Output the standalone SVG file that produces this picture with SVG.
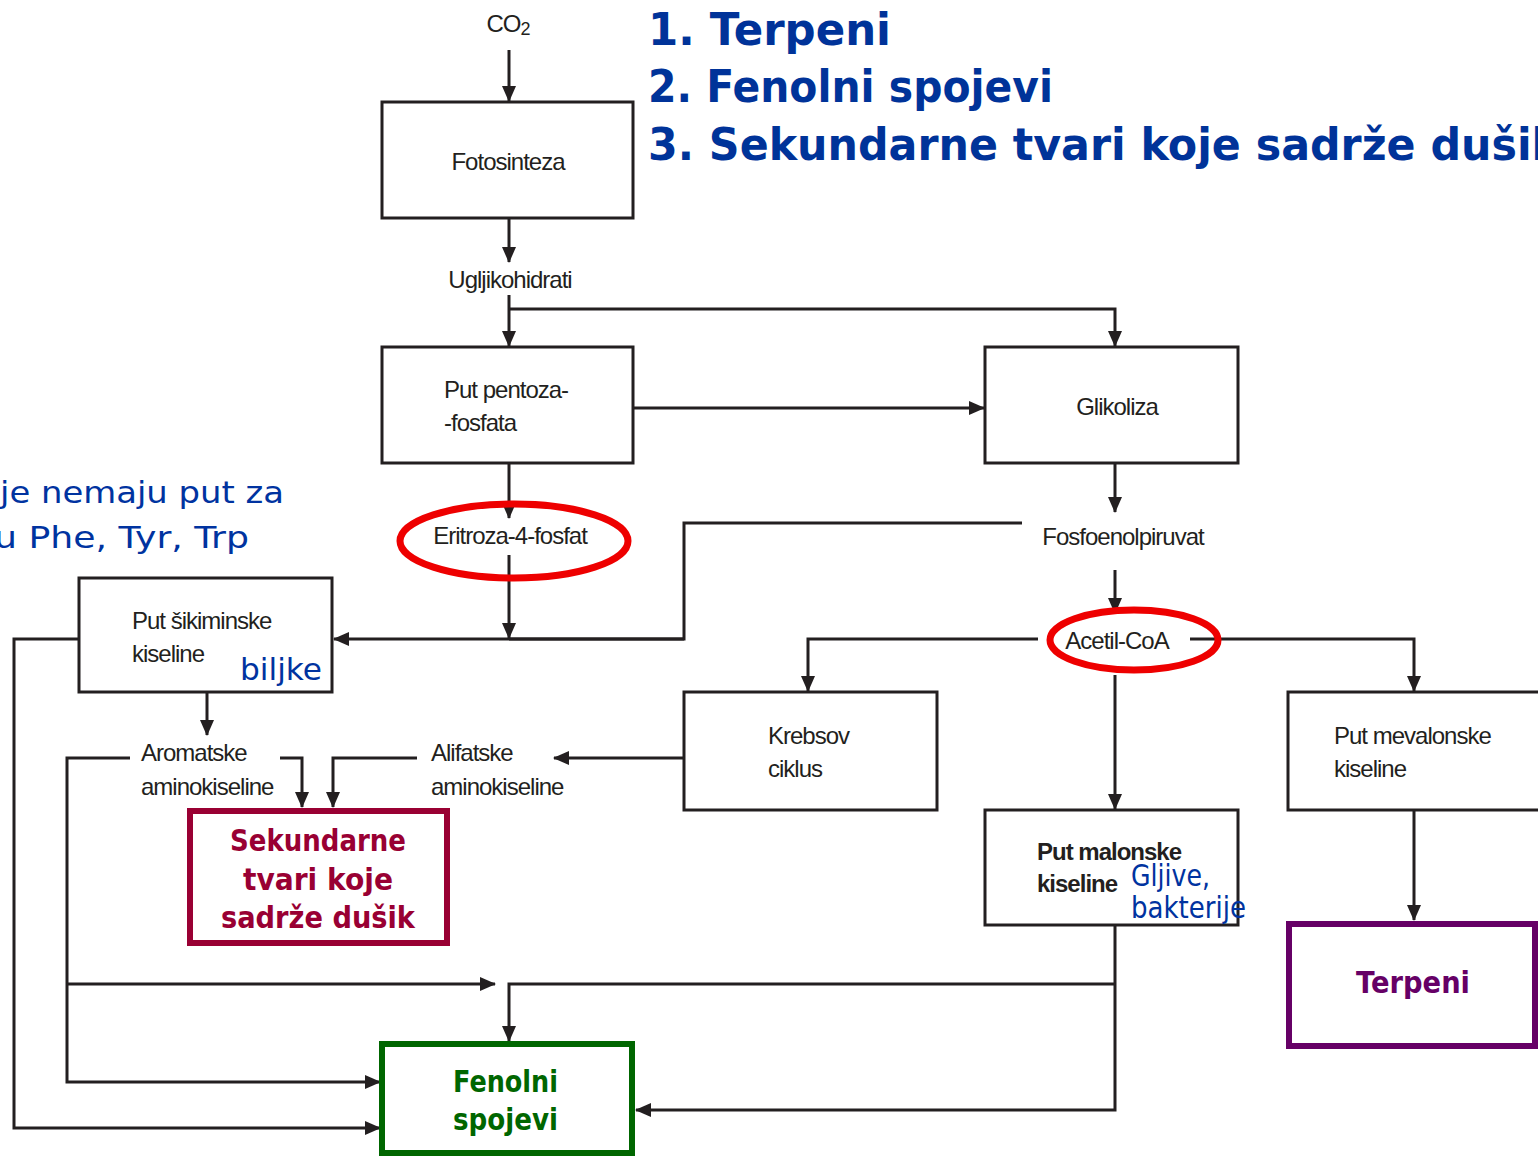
<svg xmlns="http://www.w3.org/2000/svg" width="1538" height="1156" viewBox="0 0 1538 1156">
<defs>
<style>
.box{fill:#fff;stroke:#231f20;stroke-width:3}
.lbl{font-family:"Liberation Sans",Arial,sans-serif;font-size:24px;letter-spacing:-1px;fill:#231f20}
.bold{font-weight:bold}
.c{text-anchor:middle}
.comic{font-family:"Comic Sans MS","DejaVu Sans",sans-serif}
.title{font-weight:bold;font-size:44px;fill:#003399}
.note{font-size:30px;fill:#0033a0}
.big{font-weight:bold;font-size:30px}
.con path{fill:none;stroke:#231f20;stroke-width:3}
.ring{fill:none;stroke:#ee0000;stroke-width:7}
</style>
<marker id="ah" markerUnits="userSpaceOnUse" markerWidth="16" markerHeight="14" refX="15" refY="7" orient="auto">
<path d="M0,0 L16,7 L0,14 z" fill="#231f20"/>
</marker>
</defs>
<rect width="1538" height="1156" fill="#fff"/>

<g id="title" class="comic title">
<text x="648" y="45" textLength="243" lengthAdjust="spacingAndGlyphs">1. Terpeni</text>
<text x="648" y="102" textLength="405" lengthAdjust="spacingAndGlyphs">2. Fenolni spojevi</text>
<text x="648" y="160" textLength="912" lengthAdjust="spacingAndGlyphs">3. Sekundarne tvari koje sadrže dušik</text>
</g>

<g id="note-left" class="comic note">
<text x="0" y="503" textLength="284" lengthAdjust="spacingAndGlyphs">je nemaju put za</text>
<text x="-6" y="548" textLength="255" lengthAdjust="spacingAndGlyphs">u Phe, Tyr, Trp</text>
</g>

<g class="con">
<path d="M509,50 V101" marker-end="url(#ah)"/>
<path d="M509,218 V262" marker-end="url(#ah)"/>
<path d="M509,295 V346" marker-end="url(#ah)"/>
<path d="M509,309 H1115 V346" marker-end="url(#ah)"/>
<path d="M633,408 H984" marker-end="url(#ah)"/>
<path d="M509,463 V518" marker-end="url(#ah)"/>
<path d="M509,555 V638" marker-end="url(#ah)"/>
<path d="M1115,463 V512" marker-end="url(#ah)"/>
<path d="M1022,523 H684 V639 H334" marker-end="url(#ah)"/>
<path d="M509,639 H684"/>
<path d="M1115,570 V613" marker-end="url(#ah)"/>
<path d="M1038,639 H808 V691" marker-end="url(#ah)"/>
<path d="M1190,639 H1414 V691" marker-end="url(#ah)"/>
<path d="M1115,675 V809" marker-end="url(#ah)"/>
<path d="M684,758 H554" marker-end="url(#ah)"/>
<path d="M417,758 H333 V807" marker-end="url(#ah)"/>
<path d="M207,692 V735" marker-end="url(#ah)"/>
<path d="M280,758 H302 V807" marker-end="url(#ah)"/>
<path d="M130,758 H67 V1082 H380" marker-end="url(#ah)"/>
<path d="M67,984 H495" marker-end="url(#ah)"/>
<path d="M1115,925 V1110 H636" marker-end="url(#ah)"/>
<path d="M1115,984 H509 V1041" marker-end="url(#ah)"/>
<path d="M79,639 H14 V1128 H380" marker-end="url(#ah)"/>
<path d="M1414,810 V920" marker-end="url(#ah)"/>
</g>

<g id="co2"><text class="lbl c" x="508" y="32" font-size="27" letter-spacing="-0.5">CO<tspan font-size="18" dy="3">2</tspan></text></g>

<g id="fotosinteza">
<rect class="box" x="382" y="102" width="251" height="116"/>
<text class="lbl c" x="508" y="170">Fotosinteza</text>
</g>

<g id="ugljikohidrati"><text class="lbl c" x="510" y="288">Ugljikohidrati</text></g>

<g id="pentoza">
<rect class="box" x="382" y="347" width="251" height="116"/>
<text class="lbl" x="444" y="398">Put pentoza-</text>
<text class="lbl" x="444" y="431">-fosfata</text>
</g>

<g id="glikoliza">
<rect class="box" x="985" y="347" width="253" height="116"/>
<text class="lbl c" x="1117" y="415">Glikoliza</text>
</g>

<g id="eritroza">
<rect x="430" y="522" width="162" height="30" fill="#fff"/>
<text class="lbl c" x="510" y="544">Eritroza-4-fosfat</text>
<ellipse class="ring" cx="514" cy="541" rx="114" ry="37"/>
</g>

<g id="fosfoenolpiruvat"><text class="lbl c" x="1123" y="545">Fosfoenolpiruvat</text></g>

<g id="acetil">
<rect x="1062" y="626" width="110" height="30" fill="#fff"/>
<text class="lbl c" x="1117" y="649">Acetil-CoA</text>
<ellipse class="ring" cx="1134" cy="640" rx="84" ry="30"/>
</g>

<g id="sikiminska">
<rect class="box" x="79" y="578" width="253" height="114"/>
<text class="lbl" x="132" y="629">Put šikiminske</text>
<text class="lbl" x="132" y="662">kiseline</text>
<text class="comic note" x="240" y="680" font-size="30" textLength="82" lengthAdjust="spacingAndGlyphs">biljke</text>
</g>

<g id="krebsov">
<rect class="box" x="684" y="692" width="253" height="118"/>
<text class="lbl" x="768" y="744">Krebsov</text>
<text class="lbl" x="768" y="777">ciklus</text>
</g>

<g id="mevalonska">
<rect class="box" x="1288" y="692" width="260" height="118"/>
<text class="lbl" x="1334" y="744">Put mevalonske</text>
<text class="lbl" x="1334" y="777">kiseline</text>
</g>

<g id="aromatske">
<text class="lbl" x="141" y="761">Aromatske</text>
<text class="lbl" x="141" y="795">aminokiseline</text>
</g>

<g id="alifatske">
<text class="lbl" x="431" y="761">Alifatske</text>
<text class="lbl" x="431" y="795">aminokiseline</text>
</g>

<g id="sekundarne">
<rect x="190" y="811" width="257" height="132" fill="#fff" stroke="#990033" stroke-width="6"/>
<g class="comic big" fill="#990033">
<text x="230" y="851" textLength="176" lengthAdjust="spacingAndGlyphs">Sekundarne</text>
<text x="243" y="890" textLength="150" lengthAdjust="spacingAndGlyphs">tvari koje</text>
<text x="221" y="928" textLength="194" lengthAdjust="spacingAndGlyphs">sadrže dušik</text>
</g>
</g>

<g id="malonska">
<rect class="box" x="985" y="810" width="253" height="115"/>
<text class="lbl bold" x="1037" y="860" letter-spacing="-0.8">Put malonske</text>
<text class="lbl bold" x="1037" y="892" letter-spacing="-0.8">kiseline</text>
<text class="comic note" x="1131" y="886" font-size="27" textLength="79" lengthAdjust="spacingAndGlyphs">Gljive,</text>
<text class="comic note" x="1131" y="918" font-size="27" textLength="115" lengthAdjust="spacingAndGlyphs">bakterije</text>
</g>

<g id="terpeni">
<rect x="1289" y="924" width="246" height="122" fill="#fff" stroke="#660066" stroke-width="6"/>
<text class="comic big" x="1356" y="993" fill="#660066" textLength="114" lengthAdjust="spacingAndGlyphs">Terpeni</text>
</g>

<g id="fenolni">
<rect x="382" y="1044" width="250" height="109" fill="#fff" stroke="#006600" stroke-width="6"/>
<g class="comic big" fill="#006600">
<text x="453" y="1092" textLength="105" lengthAdjust="spacingAndGlyphs">Fenolni</text>
<text x="453" y="1130" textLength="105" lengthAdjust="spacingAndGlyphs">spojevi</text>
</g>
</g>
</svg>
